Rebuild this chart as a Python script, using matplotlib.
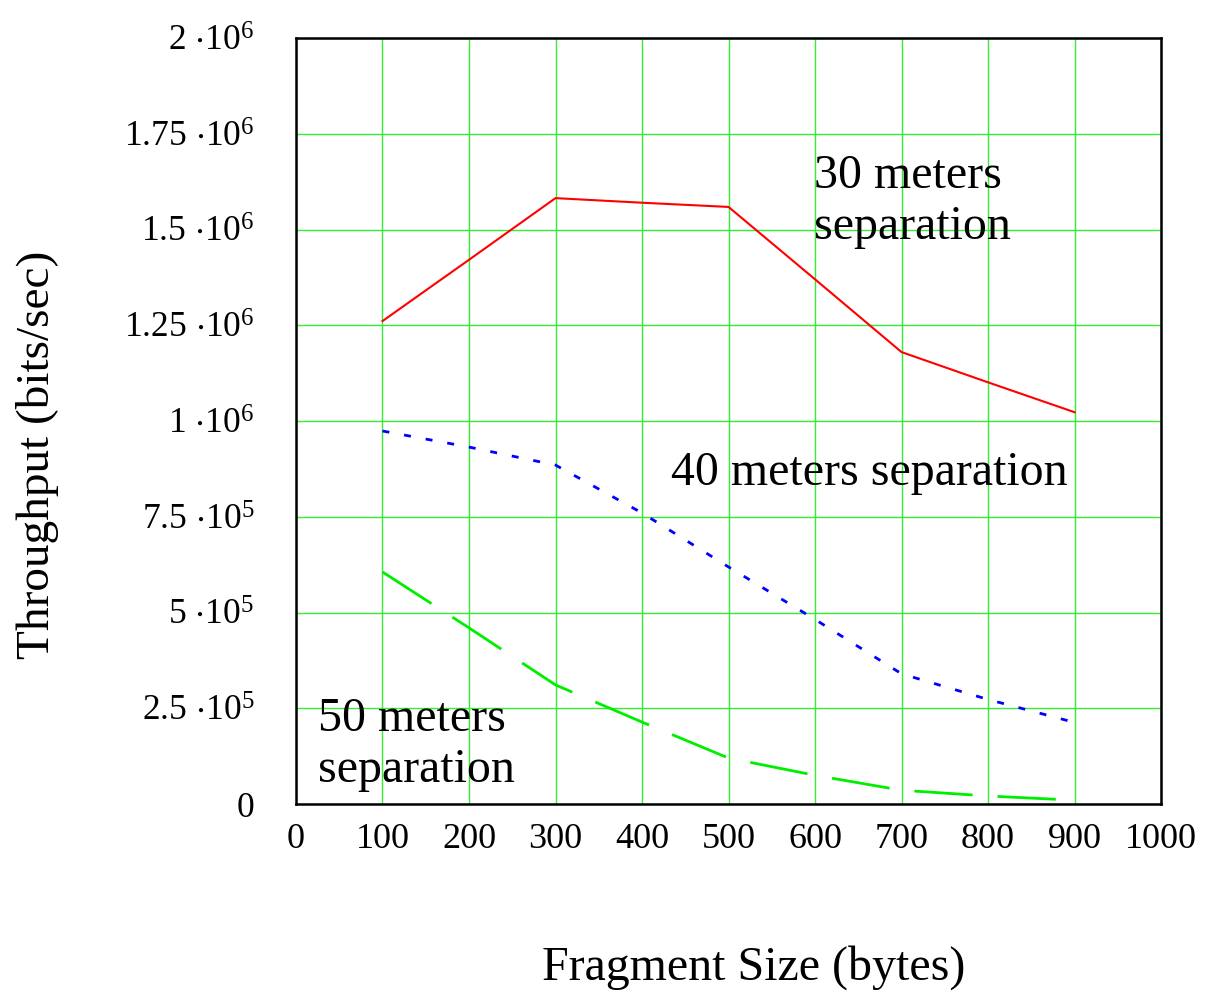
import matplotlib
matplotlib.use("Agg")
import matplotlib.pyplot as plt

# === data ===
frag_size = [100, 200, 300, 400, 500, 600, 700, 800, 900]
sep30 = [1.261e6, 1.421e6, 1.582e6, 1.570e6, 1.559e6, 1.370e6, 1.180e6, 1.101e6, 1.023e6]
sep40 = [0.974e6, 0.932e6, 0.885e6, 0.760e6, 0.619e6, 0.482e6, 0.340e6, 0.273e6, 0.213e6]
sep50 = [0.606e6, 0.460e6, 0.311e6, 0.214e6, 0.120e6, 0.075e6, 0.036e6, 0.021e6, 0.010e6]

xticks = [0, 100, 200, 300, 400, 500, 600, 700, 800, 900, 1000]
yticks = [0, 2.5e5, 5e5, 7.5e5, 1e6, 1.25e6, 1.5e6, 1.75e6, 2e6]
ytick_labels = ["0",
                r"$2.5\ {\cdot}10^{5}$", r"$5\ {\cdot}10^{5}$", r"$7.5\ {\cdot}10^{5}$",
                r"$1\ {\cdot}10^{6}$", r"$1.25\ {\cdot}10^{6}$", r"$1.5\ {\cdot}10^{6}$",
                r"$1.75\ {\cdot}10^{6}$", r"$2\ {\cdot}10^{6}$"]

# === style ===
plt.rcParams['font.family'] = ['Liberation Serif', 'DejaVu Serif']
plt.rcParams['mathtext.fontset'] = 'custom'
plt.rcParams['mathtext.rm'] = 'Liberation Serif'
plt.rcParams['mathtext.it'] = 'Liberation Serif'
plt.rcParams['mathtext.default'] = 'regular'

fig = plt.figure(figsize=(12.12, 9.93), dpi=100)
ax = fig.add_axes([0.2442, 0.1903, 0.7138, 0.7714])

ax.plot(frag_size, sep30, color='red', lw=1.5)
ax.plot(frag_size, sep40, color='blue', lw=2, dashes=(2.5, 5.4))
ax.plot(frag_size, sep50, color='#00ee00', lw=2, dashes=(21, 9))

ax.set_xlim(0, 1000)
ax.set_ylim(0, 2e6)
ax.set_xticks(xticks)
ax.set_xticklabels([str(t) for t in xticks])
ax.set_yticks(yticks)
ax.set_yticklabels(ytick_labels)
ax.tick_params(axis='both', length=0)
ax.tick_params(axis='x', pad=14, labelsize=26)
ax.tick_params(axis='y', pad=30, labelsize=25.5)

ax.grid(True, color='#33ee33', lw=1)
ax.set_axisbelow(True)
for sp in ax.spines.values():
    sp.set_linewidth(1.8)
    sp.set_color('black')

# labels on the curves
ax.text(599, 1.475e6, "30 meters\nseparation", fontsize=34.5, ha='left',
        va='baseline', linespacing=1.2)
ax.text(433, 0.833e6, "40 meters separation", fontsize=34.5, ha='left', va='baseline')
ax.text(25, 0.058e6, "50 meters\nseparation", fontsize=34.5, ha='left',
        va='baseline', linespacing=1.2)

# axis titles
fig.text(754 / 1212, 1 - 968 / 993, "Fragment Size (bytes)", fontsize=34.5,
         ha='center', va='center')
fig.text(38 / 1212, 1 - 455 / 993, "Throughput (bits/sec)", fontsize=34,
         ha='center', va='center', rotation=90)

fig.savefig("out.png", dpi=100)
